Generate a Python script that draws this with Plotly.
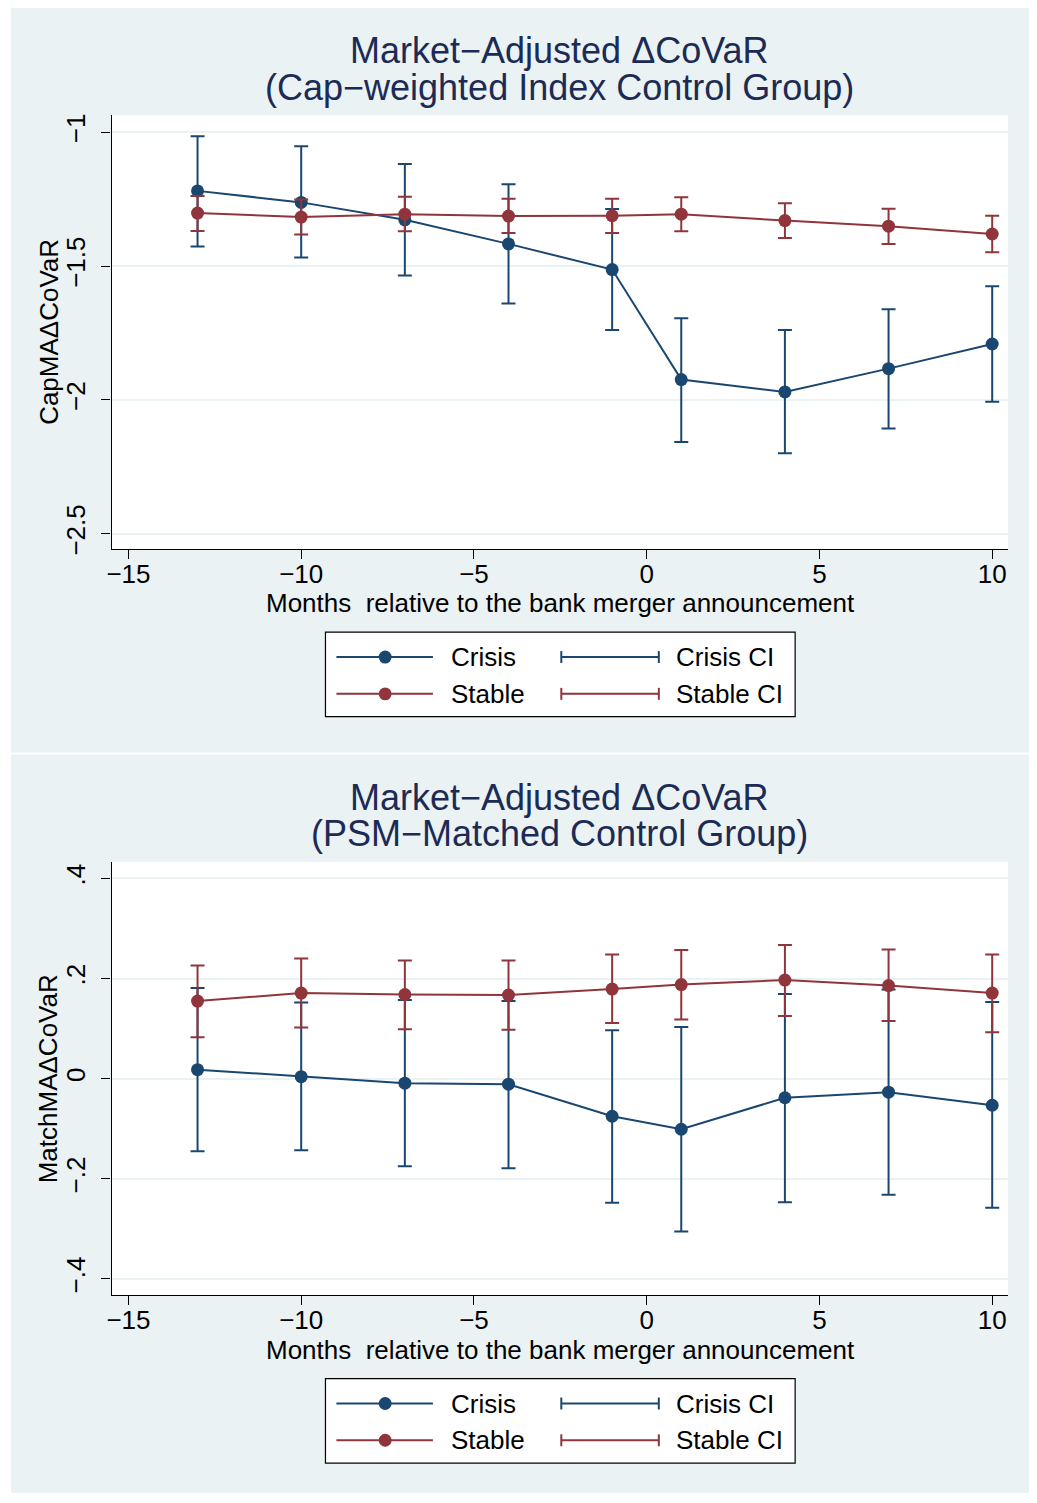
import plotly.graph_objects as go

# ---------------- data ----------------
months = [-13, -10, -7, -4, -1, 1, 4, 7, 10]

crisis_cap = [-1.219, -1.262, -1.327, -1.417, -1.513, -1.924, -1.970, -1.883, -1.791]
crisis_cap_lo = [-1.427, -1.468, -1.535, -1.640, -1.739, -2.157, -2.199, -2.107, -2.007]
crisis_cap_hi = [-1.015, -1.052, -1.119, -1.194, -1.287, -1.695, -1.739, -1.661, -1.575]
stable_cap = [-1.302, -1.317, -1.306, -1.313, -1.312, -1.306, -1.330, -1.351, -1.380]
stable_cap_lo = [-1.369, -1.382, -1.370, -1.376, -1.376, -1.370, -1.395, -1.417, -1.448]
stable_cap_hi = [-1.238, -1.251, -1.241, -1.248, -1.248, -1.243, -1.265, -1.286, -1.312]

crisis_psm = [0.018, 0.004, -0.009, -0.011, -0.075, -0.101, -0.038, -0.027, -0.053]
crisis_psm_lo = [-0.145, -0.143, -0.175, -0.179, -0.248, -0.305, -0.247, -0.232, -0.258]
crisis_psm_hi = [0.181, 0.152, 0.157, 0.155, 0.097, 0.103, 0.169, 0.178, 0.153]
stable_psm = [0.155, 0.171, 0.168, 0.167, 0.179, 0.188, 0.197, 0.186, 0.171]
stable_psm_lo = [0.083, 0.102, 0.099, 0.098, 0.111, 0.118, 0.125, 0.115, 0.093]
stable_psm_hi = [0.226, 0.240, 0.236, 0.236, 0.248, 0.257, 0.267, 0.258, 0.248]

x_ticks = [-15, -10, -5, 0, 5, 10]
x_ticktext = ["\u221215", "\u221210", "\u22125", "0", "5", "10"]
y1_ticks = [-2.5, -2, -1.5, -1]
y1_ticktext = ["\u22122.5", "\u22122", "\u22121.5", "\u22121"]
y2_ticks = [-0.4, -0.2, 0, 0.2, 0.4]
y2_ticktext = ["\u2212.4", "\u2212.2", "0", ".2", ".4"]

titles = [("Market\u2212Adjusted \u0394CoVaR", "(Cap\u2212weighted Index Control Group)"),
          ("Market\u2212Adjusted \u0394CoVaR", "(PSM\u2212Matched Control Group)")]
ytitles = ["CapMA\u0394CoVaR", "MatchMA\u0394CoVaR"]
xtitle = "Months\u00a0 relative to the bank merger announcement"
legend_labels = ["Crisis", "Stable", "Crisis CI", "Stable CI"]

# ---------------- style ----------------
PAGE_MARGIN = 8            # default <body> margin of the written page
W, H = 1037 - 2 * PAGE_MARGIN, 1503 - 2 * PAGE_MARGIN
NAVY = "#1A476F"
MAROON = "#90353B"
PANEL = "#EAF2F3"
TITLE_C = "#1C2B55"
FONT = "Liberation Sans, Arial, sans-serif"
FS = 26
OFF = 751  # vertical offset between the two panels (px)


def px(x):
    return (x - PAGE_MARGIN) / W


def py(y):
    return 1 - (y - PAGE_MARGIN) / H


fig = go.Figure()


def add_series(xa, ya, vals, lo, hi, color, name):
    fig.add_trace(go.Scatter(
        x=months, y=vals, mode="lines+markers", name=name,
        xaxis=xa, yaxis=ya, showlegend=False,
        line=dict(color=color, width=2),
        marker=dict(color=color, size=13),
        error_y=dict(type="data", symmetric=False,
                     array=[h - v for h, v in zip(hi, vals)],
                     arrayminus=[v - l for v, l in zip(vals, lo)],
                     color=color, thickness=2, width=7),
    ))


add_series("x", "y", crisis_cap, crisis_cap_lo, crisis_cap_hi, NAVY, "Crisis")
add_series("x", "y", stable_cap, stable_cap_lo, stable_cap_hi, MAROON, "Stable")
add_series("x2", "y2", crisis_psm, crisis_psm_lo, crisis_psm_hi, NAVY, "Crisis")
add_series("x2", "y2", stable_psm, stable_psm_lo, stable_psm_hi, MAROON, "Stable")

shapes = []
annotations = []

for k in range(2):
    o = OFF * k
    # panel background
    top = 6 if k == 0 else 757
    bottom = 755 if k == 0 else 1500
    shapes.append(dict(type="rect", xref="paper", yref="paper", layer="below",
                       x0=px(6), x1=px(1035), y0=py(top), y1=py(bottom),
                       fillcolor=PANEL, line=dict(width=0)))
    # plot area
    shapes.append(dict(type="rect", xref="paper", yref="paper", layer="below",
                       x0=px(107), x1=px(1008), y0=py(114 + o), y1=py(550 + o),
                       fillcolor="white", line=dict(width=0)))
    # titles
    t1, t2 = titles[k]
    annotations.append(dict(text=t1, xref="paper", yref="paper", x=px(557), y=py(49 + o),
                            xanchor="center", yanchor="middle", showarrow=False,
                            font=dict(family=FONT, size=36, color=TITLE_C)))
    annotations.append(dict(text=t2, xref="paper", yref="paper", x=px(557), y=py(86 + o),
                            xanchor="center", yanchor="middle", showarrow=False,
                            font=dict(family=FONT, size=36, color=TITLE_C)))
    # axis titles
    annotations.append(dict(text=ytitles[k], xref="paper", yref="paper", x=px(44), y=py(332 + o),
                            xanchor="center", yanchor="middle", showarrow=False, textangle=-90,
                            font=dict(family=FONT, size=FS, color="black")))
    annotations.append(dict(text=xtitle, xref="paper", yref="paper", x=px(558), y=py(605 + o),
                            xanchor="center", yanchor="middle", showarrow=False,
                            font=dict(family=FONT, size=FS, color="black")))
    # legend box
    shapes.append(dict(type="rect", xref="paper", yref="paper",
                       x0=px(322), x1=px(794), y0=py(634 + o), y1=py(719 + o),
                       fillcolor="white", line=dict(color="black", width=1.2)))
    for r, (color, lab, labci) in enumerate([(NAVY, legend_labels[0], legend_labels[2]),
                                             (MAROON, legend_labels[1], legend_labels[3])]):
        yy = 659 + 37 * r + o
        shapes.append(dict(type="line", xref="paper", yref="paper",
                           x0=px(333), x1=px(430), y0=py(yy), y1=py(yy),
                           line=dict(color=color, width=2)))
        shapes.append(dict(type="circle", xref="paper", yref="paper",
                           x0=px(375.5), x1=px(388.5), y0=py(yy - 6.5), y1=py(yy + 6.5),
                           fillcolor=color, line=dict(color=color, width=0)))
        shapes.append(dict(type="line", xref="paper", yref="paper",
                           x0=px(559), x1=px(657), y0=py(yy), y1=py(yy),
                           line=dict(color=color, width=2)))
        for cx in (559, 657):
            shapes.append(dict(type="line", xref="paper", yref="paper",
                               x0=px(cx), x1=px(cx), y0=py(yy - 6), y1=py(yy + 6),
                               line=dict(color=color, width=2)))
        annotations.append(dict(text=lab, xref="paper", yref="paper", x=px(446), y=py(yy),
                                xanchor="left", yanchor="middle", showarrow=False,
                                font=dict(family=FONT, size=FS, color="black")))
        annotations.append(dict(text=labci, xref="paper", yref="paper", x=px(672), y=py(yy),
                                xanchor="left", yanchor="middle", showarrow=False,
                                font=dict(family=FONT, size=FS, color="black")))

xaxis_common = dict(range=[-15.49, 10.46], tickvals=x_ticks, ticktext=x_ticktext,
                    showgrid=False, zeroline=False, showline=True, linecolor="black",
                    linewidth=1.2, ticks="outside", ticklen=9, tickcolor="black", tickwidth=1.2,
                    ticklabelstandoff=-7,
                    tickfont=dict(family=FONT, size=FS, color="black"), fixedrange=True)
yaxis_common = dict(showgrid=True, gridcolor=PANEL, gridwidth=2, zeroline=False,
                    showline=True, linecolor="black", linewidth=1.2, ticks="outside",
                    ticklen=9, tickcolor="black", tickwidth=1.2, tickangle=-90,
                    ticklabelstandoff=6,
                    tickfont=dict(family=FONT, size=FS, color="black"), fixedrange=True)

fig.update_layout(
    width=W, height=H, margin=dict(l=0, r=0, t=0, b=0),
    paper_bgcolor="white", plot_bgcolor="rgba(0,0,0,0)",
    showlegend=False,
    xaxis=dict(domain=[px(107), px(1008)], anchor="y", **xaxis_common),
    yaxis=dict(domain=[py(550), py(114)], anchor="x", range=[-2.5557, -0.9369],
               tickvals=y1_ticks, ticktext=y1_ticktext, **yaxis_common),
    xaxis2=dict(domain=[px(107), px(1008)], anchor="y2", **xaxis_common),
    yaxis2=dict(domain=[py(1301), py(865)], anchor="x2", range=[-0.4324, 0.4332],
                tickvals=y2_ticks, ticktext=y2_ticktext, **yaxis_common),
    shapes=shapes, annotations=annotations,
)

fig.write_html("out.html")
